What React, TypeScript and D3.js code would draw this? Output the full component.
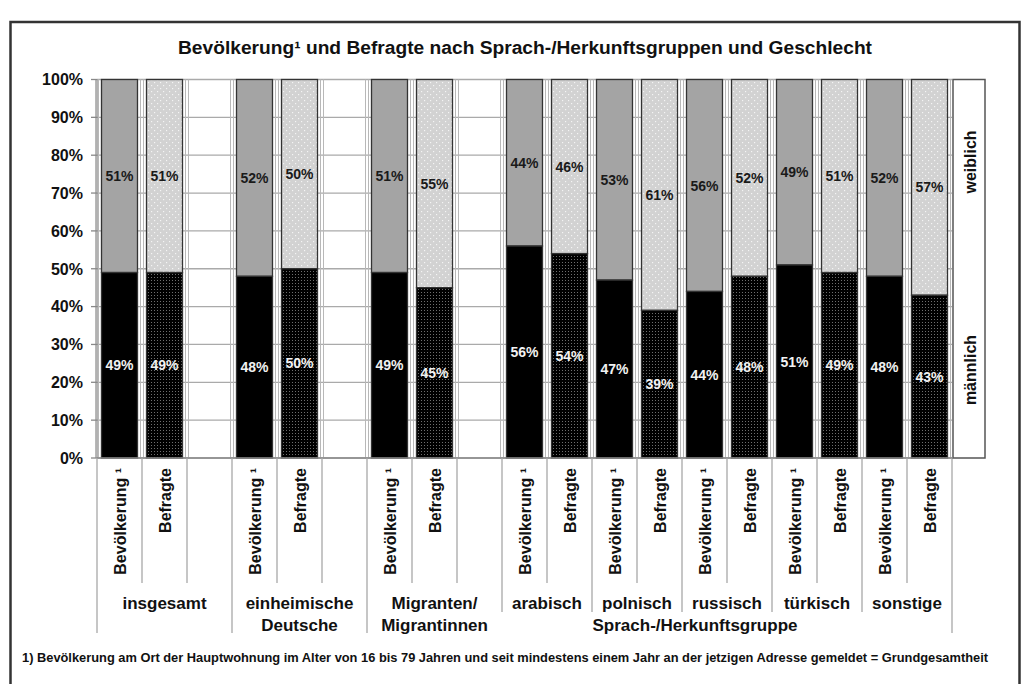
import React from "react";
import * as d3 from "d3";

const title = "Bevölkerung¹ und Befragte nach Sprach-/Herkunftsgruppen und Geschlecht";
const footnote =
  "1) Bevölkerung am Ort der Hauptwohnung im Alter von 16 bis 79 Jahren und seit mindestens einem Jahr an der jetzigen Adresse gemeldet = Grundgesamtheit";
const groupLabels: string[][] = [
  ["insgesamt"],
  ["einheimische", "Deutsche"],
  ["Migranten/", "Migrantinnen"],
  ["arabisch"],
  ["polnisch"],
  ["russisch"],
  ["türkisch"],
  ["sonstige"],
];
const groupHasGap = [true, true, true, false, false, false, false, false];
const barTypes = ["Bevölkerung ¹", "Befragte"];
// per bar, in order: (group0 Bev, group0 Bef, group1 Bev, ...)
const maleShare = [49, 49, 48, 50, 49, 45, 56, 54, 47, 39, 44, 48, 51, 49, 48, 43];
const femaleShare = [51, 51, 52, 50, 51, 55, 44, 46, 53, 61, 56, 52, 49, 51, 52, 57];
const yTicks = [0, 10, 20, 30, 40, 50, 60, 70, 80, 90, 100];
const subGroupTitle = "Sprach-/Herkunftsgruppe";
const legendLabels = ["weiblich", "männlich"];

type Slot = { group: number; type: number; bar: number }; // type -1 = gap

const slots: Slot[] = [];
{
  let b = 0;
  groupLabels.forEach((_, g) => {
    barTypes.forEach((_, t) => {
      slots.push({ group: g, type: t, bar: b });
      b++;
    });
    if (groupHasGap[g]) slots.push({ group: g, type: -1, bar: -1 });
  });
}

const FONT = "'Liberation Sans', Arial, Helvetica, sans-serif";

export default function App() {
  const left = 97;
  const right = 952;
  const x = d3
    .scaleBand<number>()
    .domain(d3.range(slots.length))
    .range([left, right])
    .paddingInner(0.2)
    .paddingOuter(0.1);
  const step = x.step();
  const y = d3.scaleLinear().domain([0, 100]).range([458, 79.5]);
  const boundary = (k: number) => left + k * step;

  // group boundaries (slot index at start of each group)
  const groupStart: number[] = [];
  const groupEnd: number[] = [];
  slots.forEach((s, i) => {
    if (groupStart[s.group] === undefined) groupStart[s.group] = i;
    groupEnd[s.group] = i + 1;
  });

  const sepLines: { k: number; y2: number }[] = [];
  for (let k = 0; k <= slots.length; k++) {
    const isGroupStart = groupStart.includes(k) || k === slots.length;
    let y2 = 583;
    if (isGroupStart) {
      const g = groupStart.indexOf(k);
      if (k === 0 || k === slots.length || (g >= 0 && g <= 2)) y2 = 633;
      else y2 = 612;
    }
    sepLines.push({ k, y2 });
  }

  return (
    <svg
      width={1024}
      height={684}
      style={{ position: "absolute", left: 0, top: 0, display: "block", background: "#fff" }}
      fontFamily={FONT}
    >
      <defs>
        <pattern id="maleBef" width={3} height={3} patternUnits="userSpaceOnUse">
          <rect width={3} height={3} fill="#000" />
          <rect x={1} y={1} width={1} height={1} fill="#6e6e6e" />
        </pattern>
        <pattern id="femBef" width={6} height={6} patternUnits="userSpaceOnUse">
          <rect width={6} height={6} fill="#d2d2d2" />
          <rect x={1} y={1} width={1.2} height={1.2} fill="#f4f4f4" />
          <rect x={4} y={4} width={1.2} height={1.2} fill="#f4f4f4" />
        </pattern>
      </defs>

      <rect x={10.5} y={22} width={1009} height={720} fill="#fff" stroke="#333" strokeWidth={2.5} />

      <text
        x={525}
        y={54}
        textAnchor="middle"
        fontSize={18}
        fontWeight="bold"
        textLength={694}
        lengthAdjust="spacingAndGlyphs"
        fill="#111"
      >
        {title}
      </text>

      {/* horizontal gridlines */}
      {yTicks.map((t) => (
        <line key={"h" + t} x1={left} x2={right} y1={y(t)} y2={y(t)} stroke="#aaa" strokeWidth={1.3} />
      ))}
      {/* vertical gridlines (double) */}
      {d3.range(slots.length + 1).map((k) => (
        <g key={"v" + k}>
          <line x1={boundary(k) - 1.5} x2={boundary(k) - 1.5} y1={y(100)} y2={y(0)} stroke="#b8b8b8" strokeWidth={1} />
          <line x1={boundary(k) + 1.5} x2={boundary(k) + 1.5} y1={y(100)} y2={y(0)} stroke="#b8b8b8" strokeWidth={1} />
        </g>
      ))}

      {/* y axis */}
      <line x1={left} x2={left} y1={y(100)} y2={y(0)} stroke="#888" strokeWidth={1.3} />
      {yTicks.map((t) => (
        <g key={"yt" + t}>
          <line x1={91} x2={left} y1={y(t)} y2={y(t)} stroke="#888" strokeWidth={1.3} />
          <text x={83} y={y(t)} dy="0.36em" textAnchor="end" fontSize={16} fontWeight="bold" fill="#111">
            {t + "%"}
          </text>
        </g>
      ))}

      {/* bars */}
      {slots.map((s, i) => {
        if (s.type < 0) return null;
        const m = maleShare[s.bar];
        const f = femaleShare[s.bar];
        const x0 = x(i) as number;
        const w = x.bandwidth();
        const isBef = s.type === 1;
        return (
          <g key={"b" + i}>
            <rect
              x={x0}
              y={y(100)}
              width={w}
              height={y(m) - y(100)}
              fill={isBef ? "url(#femBef)" : "#a4a4a4"}
              stroke="#333"
              strokeWidth={1.3}
            />
            <rect
              x={x0}
              y={y(m)}
              width={w}
              height={y(0) - y(m)}
              fill={isBef ? "url(#maleBef)" : "#000"}
              stroke="#333"
              strokeWidth={1.3}
            />
            <text
              x={x0 + w / 2}
              y={y(m + (100 - m) / 2)}
              dy="0.36em"
              textAnchor="middle"
              fontSize={14}
              fontWeight="bold"
              fill="#1a1a1a"
            >
              {f + "%"}
            </text>
            <text
              x={x0 + w / 2}
              y={y(m / 2)}
              dy="0.36em"
              textAnchor="middle"
              fontSize={14}
              fontWeight="bold"
              fill="#f2f2f2"
            >
              {m + "%"}
            </text>
          </g>
        );
      })}

      {/* x axis */}
      <line x1={left} x2={right} y1={y(0)} y2={y(0)} stroke="#888" strokeWidth={1.3} />
      {sepLines.map((l) => (
        <line
          key={"s" + l.k}
          x1={boundary(l.k)}
          x2={boundary(l.k)}
          y1={y(0)}
          y2={l.y2}
          stroke="#a8a8a8"
          strokeWidth={1.3}
        />
      ))}

      {/* rotated bar labels */}
      {slots.map((s, i) => {
        if (s.type < 0) return null;
        const cx = (x(i) as number) + x.bandwidth() / 2 + 1;
        return (
          <text
            key={"xl" + i}
            transform={`translate(${cx},468) rotate(-90)`}
            dy="0.36em"
            textAnchor="end"
            fontSize={16}
            fontWeight="bold"
            fill="#111"
          >
            {barTypes[s.type]}
          </text>
        );
      })}

      {/* group labels */}
      {groupLabels.map((lines, g) => {
        const cx = (boundary(groupStart[g]) + boundary(groupEnd[g])) / 2;
        return (
          <text key={"g" + g} x={cx} textAnchor="middle" fontSize={17} fontWeight="bold" fill="#111">
            {lines.map((ln, j) => (
              <tspan key={j} x={cx} y={609 + j * 22}>
                {ln}
              </tspan>
            ))}
          </text>
        );
      })}
      <text x={695} y={631} textAnchor="middle" fontSize={17} fontWeight="bold" fill="#111">
        {subGroupTitle}
      </text>

      {/* legend box */}
      <rect x={953} y={y(100)} width={32} height={y(0) - y(100)} fill="#fff" stroke="#555" strokeWidth={1.5} />
      <text
        transform={`translate(970,162) rotate(-90)`}
        dy="0.36em"
        textAnchor="middle"
        fontSize={16}
        fontWeight="bold"
        fill="#111"
      >
        {legendLabels[0]}
      </text>
      <text
        transform={`translate(970,370) rotate(-90)`}
        dy="0.36em"
        textAnchor="middle"
        fontSize={16}
        fontWeight="bold"
        fill="#111"
      >
        {legendLabels[1]}
      </text>

      <text
        x={22}
        y={662}
        fontSize={12}
        fontWeight="bold"
        textLength={966}
        lengthAdjust="spacingAndGlyphs"
        fill="#111"
      >
        {footnote}
      </text>
    </svg>
  );
}
